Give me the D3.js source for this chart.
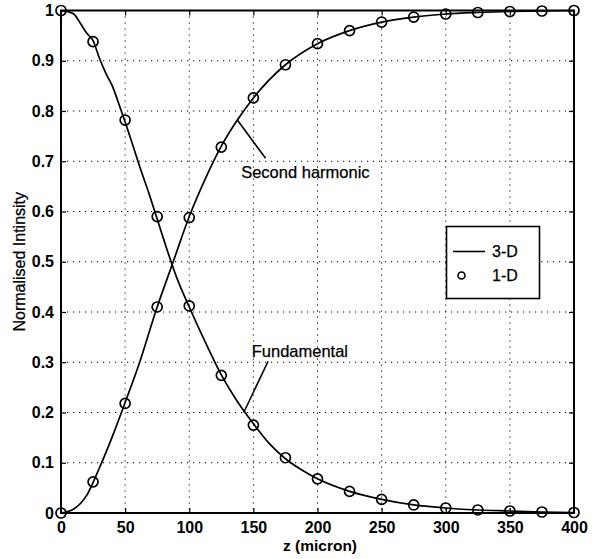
<!DOCTYPE html>
<html lang="en">
<head>
    <meta charset="UTF-8">
    <title>Normalised Intensity vs z</title>
    <script src="https://d3js.org/d3.v7.min.js"></script>
    <style>
        body { margin: 0; background: #fff; }
        svg { font-family: "Liberation Sans", Arial, Helvetica, sans-serif; }
        .grid line { stroke: #000; stroke-width: 1; stroke-dasharray: 1.2,4.8; }
        .tick-label { font-size: 16px; font-weight: bold; fill: #000; }
        .note { font-size: 16.5px; fill: #000; stroke: #000; stroke-width: 0.25; }
    </style>
</head>
<body>
    <svg width="596" height="559"></svg>

    <script>
        // tick values
        const xTicks = [0, 50, 100, 150, 200, 250, 300, 350, 400];
        const yTicks = [0, 0.1, 0.2, 0.3, 0.4, 0.5, 0.6, 0.7, 0.8, 0.9, 1];

        // 1-D model (circles), every 25 micron
        const zCircles = [0, 25, 50, 75, 100, 125, 150, 175, 200, 225, 250, 275, 300, 325, 350, 375, 400];
        const fund1D = [1.0, 0.938, 0.782, 0.59, 0.412, 0.274, 0.175, 0.11, 0.068, 0.043, 0.027, 0.016, 0.01, 0.006, 0.004, 0.002, 0.001];
        const shg1D  = [0.0, 0.062, 0.218, 0.41, 0.588, 0.728, 0.826, 0.892, 0.934, 0.96, 0.977, 0.987, 0.993, 0.996, 0.998, 0.999, 1.0];

        // 3-D model (solid lines)
        const zFund3D = [0, 5, 10, 15, 20, 25, 30, 35, 40, 45, 50, 55, 60, 70, 80, 90, 100, 112.5, 125, 137.5, 150, 162.5, 175, 187.5, 200, 225, 250, 275, 300, 325, 350, 375, 400];
        const fund3D  = [1.0, 0.998, 0.993, 0.975, 0.955, 0.94, 0.905, 0.875, 0.85, 0.815, 0.778, 0.74, 0.70, 0.625, 0.545, 0.47, 0.41, 0.34, 0.275, 0.222, 0.178, 0.138, 0.108, 0.086, 0.068, 0.043, 0.027, 0.016, 0.01, 0.006, 0.004, 0.002, 0.001];
        const zShg3D  = [0, 10, 20, 30, 40, 50, 60, 75, 87.5, 100, 112.5, 125, 137.5, 150, 175, 200, 225, 250, 275, 300, 325, 350, 375, 400];
        const shg3D   = [0, 0.008, 0.035, 0.09, 0.152, 0.22, 0.29, 0.41, 0.50, 0.59, 0.665, 0.73, 0.782, 0.826, 0.892, 0.934, 0.96, 0.977, 0.987, 0.993, 0.996, 0.998, 0.999, 1.0];

        // annotations in data units: text position, leader line ends
        const notes = [
            { text: "Second harmonic", tx: 140.5, ty: 0.666, x1: 137.5, y1: 0.782, x2: 159.5, y2: 0.706 },
            { text: "Fundamental", tx: 148.7, ty: 0.31, x1: 142.5, y1: 0.2, x2: 161.5, y2: 0.302 }
        ];

        const svg = d3.select("svg");
        const mLeft = 61, mRight = 574, mTop = 10.5, mBottom = 513;

        const x = d3.scaleLinear().domain([0, 400]).range([mLeft, mRight]);
        const y = d3.scaleLinear().domain([0, 1]).range([mBottom, mTop]);

        // grid
        const grid = svg.append("g").attr("class", "grid");
        grid.selectAll(".gx").data(xTicks.slice(1, -1)).enter().append("line")
            .attr("x1", d => x(d)).attr("x2", d => x(d))
            .attr("y1", mTop).attr("y2", mBottom);
        grid.selectAll(".gy").data(yTicks.slice(1, -1)).enter().append("line")
            .attr("x1", mLeft).attr("x2", mRight)
            .attr("y1", d => y(d)).attr("y2", d => y(d));

        // axes with inward ticks on all sides
        const tickLen = 5;
        svg.append("g").attr("transform", `translate(0,${mBottom})`)
            .call(d3.axisBottom(x).tickValues(xTicks).tickSize(-tickLen).tickPadding(9).tickFormat(d3.format("d")));
        svg.append("g").attr("transform", `translate(0,${mTop})`)
            .call(d3.axisTop(x).tickValues(xTicks).tickSize(-tickLen).tickFormat(""));
        svg.append("g").attr("transform", `translate(${mLeft},0)`)
            .call(d3.axisLeft(y).tickValues(yTicks).tickSize(-tickLen).tickPadding(7).tickFormat(d => d === 0 ? "0" : d === 1 ? "1" : d3.format(".1f")(d)));
        svg.append("g").attr("transform", `translate(${mRight},0)`)
            .call(d3.axisRight(y).tickValues(yTicks).tickSize(-tickLen).tickFormat(""));

        svg.selectAll(".domain").remove();
        svg.selectAll(".tick line").attr("stroke", "#000").attr("stroke-width", 1.2);
        svg.selectAll(".tick text").attr("class", "tick-label").attr("fill", "#000");

        // frame
        svg.append("rect")
            .attr("x", mLeft).attr("y", mTop)
            .attr("width", mRight - mLeft).attr("height", mBottom - mTop)
            .attr("fill", "none").attr("stroke", "#000").attr("stroke-width", 2);

        // 3-D lines
        const line = d3.line().x(d => x(d[0])).y(d => y(d[1])).curve(d3.curveMonotoneX);
        [[zFund3D, fund3D], [zShg3D, shg3D]].forEach(([zs, vs]) => {
            svg.append("path")
                .datum(zs.map((z, i) => [z, vs[i]]))
                .attr("d", line)
                .attr("fill", "none").attr("stroke", "#000").attr("stroke-width", 1.7);
        });

        // 1-D circles
        [fund1D, shg1D].forEach(vs => {
            svg.append("g").selectAll("circle")
                .data(zCircles.map((z, i) => [z, vs[i]]))
                .enter().append("circle")
                .attr("cx", d => x(d[0])).attr("cy", d => y(d[1]))
                .attr("r", 5)
                .attr("fill", "none").attr("stroke", "#000").attr("stroke-width", 1.7);
        });

        // annotations
        notes.forEach(n => {
            svg.append("line")
                .attr("x1", x(n.x1)).attr("y1", y(n.y1))
                .attr("x2", x(n.x2)).attr("y2", y(n.y2))
                .attr("stroke", "#000").attr("stroke-width", 1.6);
            svg.append("text")
                .attr("class", "note")
                .attr("x", x(n.tx)).attr("y", y(n.ty))
                .text(n.text);
        });

        // legend
        const lg = svg.append("g");
        lg.append("rect").attr("x", 446.5).attr("y", 226.5).attr("width", 93).attr("height", 72)
            .attr("fill", "#fff").attr("stroke", "#000").attr("stroke-width", 1.6);
        lg.append("line").attr("x1", 453).attr("x2", 485).attr("y1", 251.5).attr("y2", 251.5)
            .attr("stroke", "#000").attr("stroke-width", 1.6);
        lg.append("circle").attr("cx", 461.5).attr("cy", 275.5).attr("r", 3.5)
            .attr("fill", "none").attr("stroke", "#000").attr("stroke-width", 1.6);
        lg.append("text").attr("class", "note").attr("x", 492).attr("y", 251.5).attr("dy", "0.35em")
            .style("font-size", "16px").text("3-D");
        lg.append("text").attr("class", "note").attr("x", 492).attr("y", 275.5).attr("dy", "0.35em")
            .style("font-size", "16px").text("1-D");

        // axis titles
        svg.append("text")
            .attr("x", 320).attr("y", 551)
            .attr("text-anchor", "middle")
            .attr("font-size", "15.5px").attr("font-weight", "bold")
            .text("z (micron)");
        svg.append("text")
            .attr("class", "note")
            .attr("transform", `translate(25,${(mTop + mBottom) / 2}) rotate(-90)`)
            .attr("text-anchor", "middle")
            .style("font-size", "16px")
            .text("Normalised Intinsity");
    </script>
</body>
</html>
